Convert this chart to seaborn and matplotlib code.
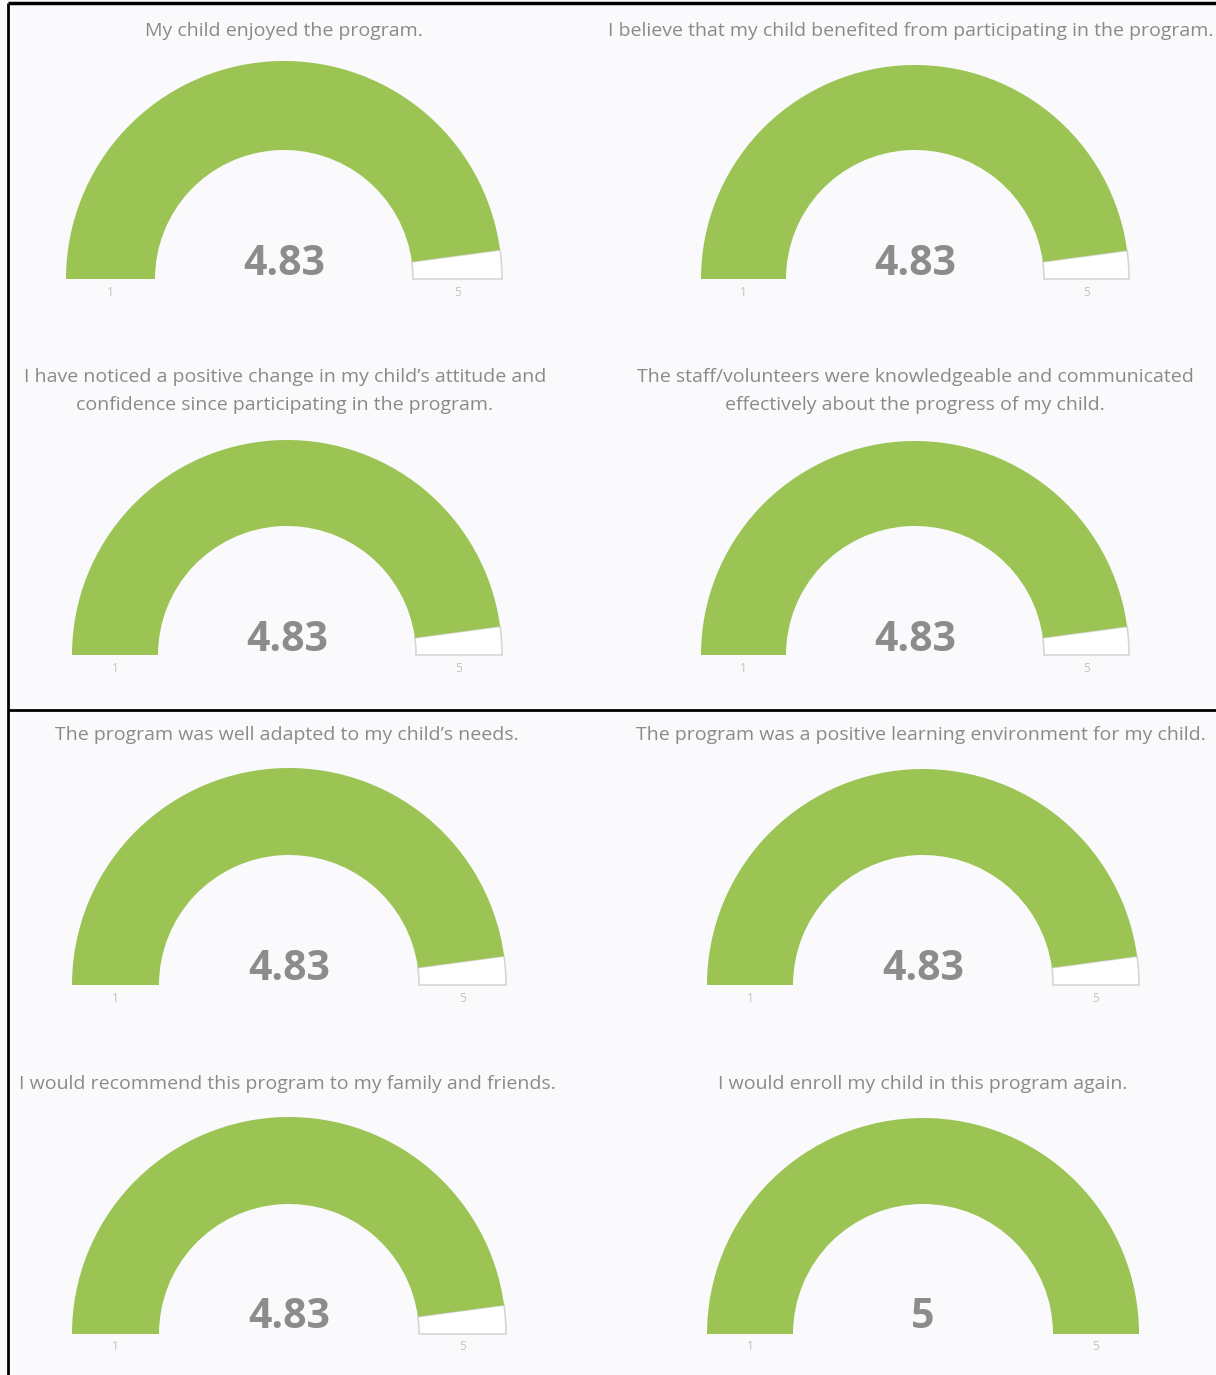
import numpy as np
import pandas as pd
import seaborn as sns
import matplotlib
matplotlib.use("Agg")
import matplotlib.pyplot as plt
from matplotlib.patches import Wedge

# ---------------- data ----------------
questions = [
    "My child enjoyed the program.",
    "I believe that my child benefited from participating in the program.",
    "I have noticed a positive change in my child\u2019s attitude and\nconfidence since participating in the program.",
    "The staff/volunteers were knowledgeable and communicated\neffectively about the progress of my child.",
    "The program was well adapted to my child\u2019s needs.",
    "The program was a positive learning environment for my child.",
    "I would recommend this program to my family and friends.",
    "I would enroll my child in this program again.",
]
scores = [4.83, 4.83, 4.83, 4.83, 4.83, 4.83, 4.83, 5]
score_labels = ["4.83", "4.83", "4.83", "4.83", "4.83", "4.83", "4.83", "5"]
scale_min = 1
scale_max = 5
tick_labels = ["1", "5"]

# ---------------- layout (pixels) ----------------
W, H = 1216, 1375
gauge_cx = [284, 915, 287, 915, 289, 923, 289, 923]
gauge_base = [279, 279, 655, 655, 985, 985, 1334, 1334]
gauge_R = [218, 214, 215, 214, 217, 216, 217, 216]
gauge_r = [129, 129, 129, 129, 130, 130, 130, 130]
title_x = [284, 911, 285, 915, 287, 921, 287, 923]
title_y = [31, 31, 391, 391, 735, 735, 1084, 1084]
value_y = [264, 264, 640, 640, 969, 969, 1318, 1318]
tick_y = [292, 292, 668, 668, 998, 998, 1347, 1347]

GREEN = "#9bc455"
BG = "#fafafc"

sns.set_theme(style="white")
plt.rcParams["font.family"] = ["Open Sans", "DejaVu Sans"]

fig = plt.figure(figsize=(W / 100, H / 100), dpi=100, facecolor=BG)
ax = fig.add_axes([0, 0, 1, 1])
ax.set_xlim(0, W)
ax.set_ylim(0, H)
ax.set_facecolor(BG)
ax.axis("off")

def Y(py):
    return H - py

for i, q in enumerate(questions):
    cx, cy = gauge_cx[i], Y(gauge_base[i])
    R, r = gauge_R[i], gauge_r[i]
    frac = (scores[i] - scale_min) / (scale_max - scale_min)
    theta_v = 180.0 * (1 - frac)
    if theta_v > 0.01:
        ax.add_patch(Wedge((cx, cy), R, 0, theta_v, width=R - r,
                           facecolor="white", edgecolor="#d6d6d6", lw=1.2))
    ax.add_patch(Wedge((cx, cy), R, theta_v, 180, width=R - r,
                       facecolor=GREEN, edgecolor="none", lw=0))
    ax.text(title_x[i], Y(title_y[i]), q, ha="center", va="center",
            fontsize=14.0, color="#8a8a8a", linespacing=1.72,
            family=["Open Sans", "DejaVu Sans"])
    ax.text(cx, Y(value_y[i]), score_labels[i], ha="center", va="center",
            fontsize=29.5, fontweight="bold", color="#8c8c8c",
            family=["Open Sans", "DejaVu Sans"])
    mid = (R + r) / 2
    ax.text(cx - mid, Y(tick_y[i]), tick_labels[0], ha="center", va="center",
            fontsize=8.5, color="#c2c2c2")
    ax.text(cx + mid, Y(tick_y[i]), tick_labels[1], ha="center", va="center",
            fontsize=8.5, color="#c2c2c2")

# panel borders
ax.plot([8, 8], [Y(3), Y(1375)], color="black", lw=2, solid_capstyle="butt")
ax.plot([8, W], [Y(3), Y(3)], color="black", lw=2.5, solid_capstyle="butt")
ax.plot([8, W], [Y(710), Y(710)], color="black", lw=2, solid_capstyle="butt")

fig.savefig("out.png", dpi=100, facecolor=BG)
